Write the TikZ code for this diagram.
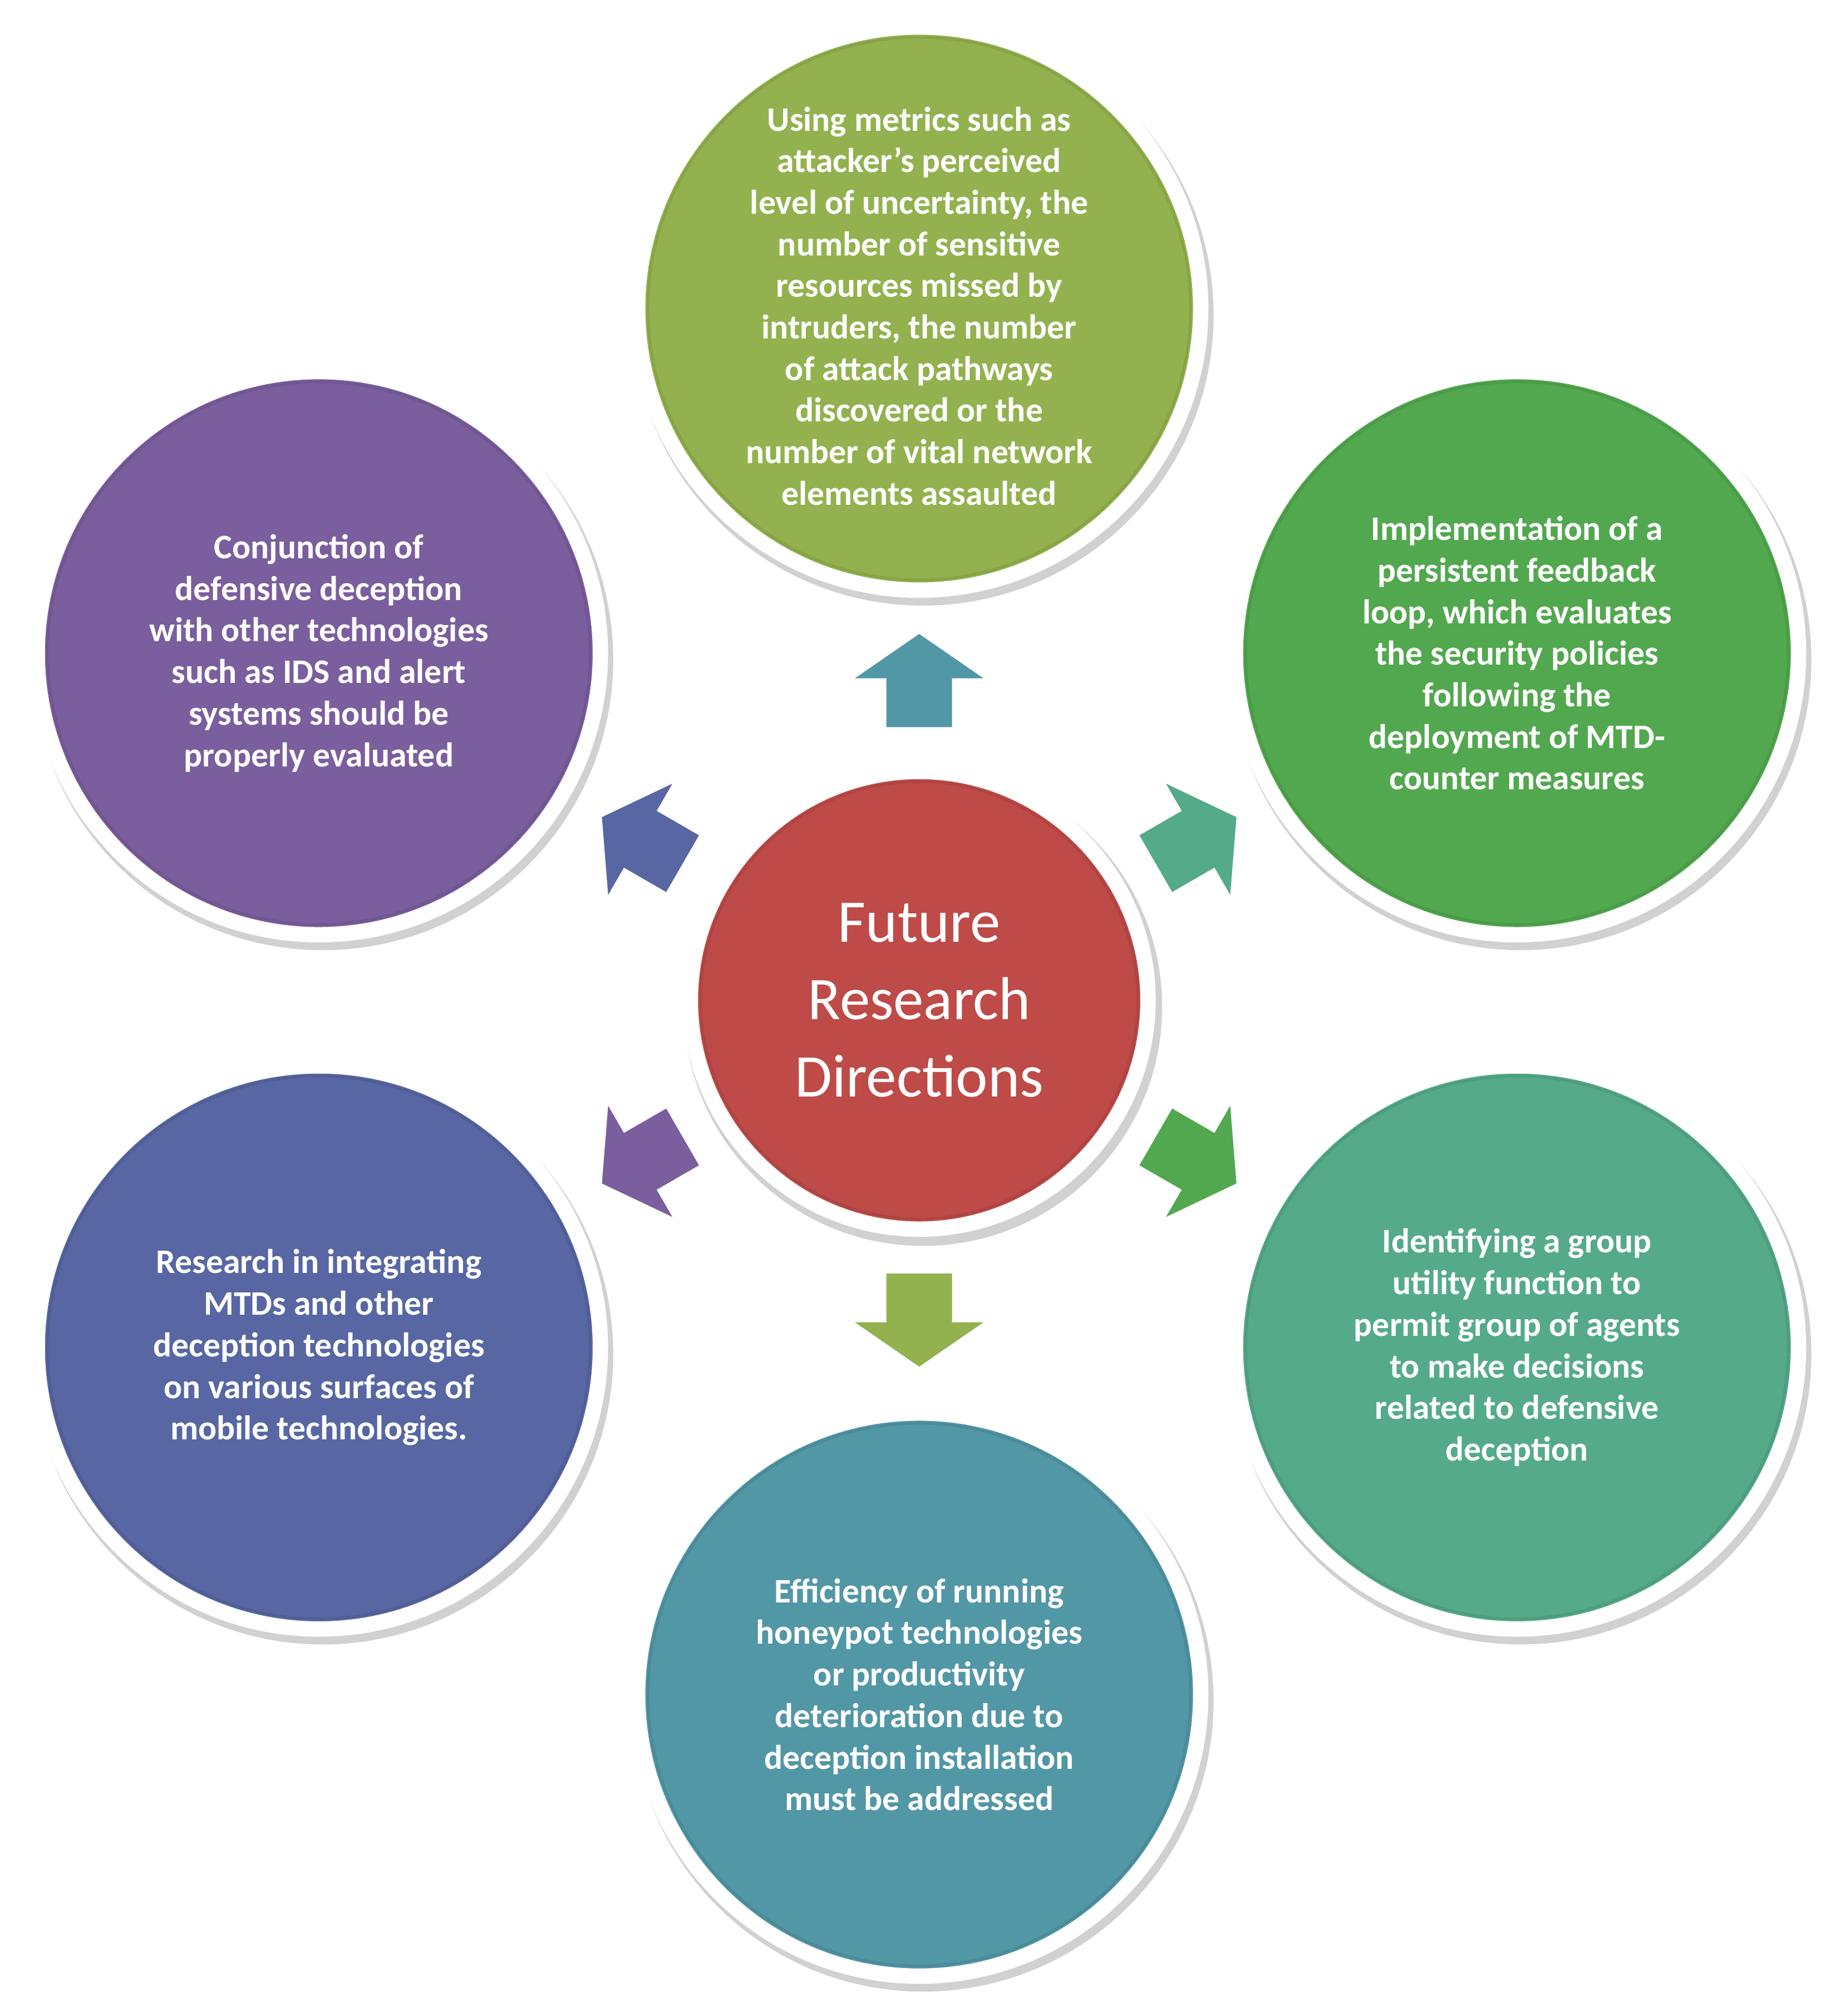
\documentclass[tikz,border=0pt]{standalone}
\usepackage{fontspec}
\setmainfont{Carlito}
\begin{document}
\begin{tikzpicture}[x=0.1cm,y=-0.1cm,
  ring/.style={fill=#1, draw=white, line width=34pt},
  shadowc/.style={fill=black!25, draw=none},
  txt/.style={text=white, align=center, font=\fontsize{76}{92}\selectfont\bfseries},
  arr/.style={fill=#1, draw=white, line width=14pt, line join=miter}]
\definecolor{cTop}{HTML}{93B24F}
\definecolor{cUR}{HTML}{52A84F}
\definecolor{cLR}{HTML}{55AB89}
\definecolor{cBot}{HTML}{5297A6}
\definecolor{cLL}{HTML}{5867A3}
\definecolor{cUL}{HTML}{7B5E9E}
\definecolor{cC}{HTML}{BE4B48}
\useasboundingbox (0,0) rectangle (1428,1568);
% shadows
\foreach \x/\y/\r in {715/240/226,1180/508/226,1180/1048/226,715/1318/226,248/1048/226,248/508/226,715/778/186}
  \fill[black!18] (\x+3,\y+5) circle (\r);
% circles
\path[ring=cTop] (715,240) circle (219);
\path[ring=cUR] (1180,508) circle (219);
\path[ring=cLR] (1180,1048) circle (219);
\path[ring=cBot] (715,1318) circle (219);
\path[ring=cLL] (248,1048) circle (219);
\path[ring=cUL] (248,508) circle (219);
\path[ring=cC] (715,778) circle (178);
\foreach \x/\y/\c in {715/240/cTop,1180/508/cUR,1180/1048/cLR,715/1318/cBot,248/1048/cLL,248/508/cUL}
  \draw[\c!85!black, line width=6pt, opacity=0.5] (\x,\y) circle (211);
\draw[cC!85!black, line width=6pt, opacity=0.5] (715,778) circle (170);
% arrows
\foreach \a/\c [count=\i] in {-90/cTop,-30/cUR,30/cLR,90/cBot,150/cLL,210/cUL}{
  \begin{scope}[shift={(715,778)}, rotate=\a, shift={(248,0)}]
    \path[arr=\c] (-38,-28) -- (0,-28) -- (0,-58) -- (40,0) -- (0,58) -- (0,28) -- (-38,28) -- cycle;
  \end{scope}
}
% texts
\node[txt] (t1) at (715,238) {Using metrics such as\\attacker's perceived\\level of uncertainty, the\\number of sensitive\\resources missed by\\intruders, the number\\of attack pathways\\discovered or the\\number of vital network\\elements assaulted};
\node[txt] (t2) at (1180,508) {Implementation of a\\persistent feedback\\loop, which evaluates\\the security policies\\following the\\deployment of MTD-\\counter measures};
\node[txt] (t3) at (1180,1048) {Identifying a group\\utility function to\\permit group of agents\\to make decisions\\related to defensive\\deception};
\node[txt] (t4) at (715,1318) {Efficiency of running\\honeypot technologies\\or productivity\\deterioration due to\\deception installation\\must be addressed};
\node[txt] (t5) at (248,1048) {Research in integrating\\MTDs and other\\deception technologies\\on various surfaces of\\mobile technologies.};
\node[txt] (t6) at (248,508) {Conjunction of\\defensive deception\\with other technologies\\such as IDS and alert\\systems should be\\properly evaluated};
\node[text=white, align=center, font=\fontsize{134}{171}\selectfont] (c) at (715,778) {Future\\Research\\Directions};
\end{tikzpicture}
\end{document}
